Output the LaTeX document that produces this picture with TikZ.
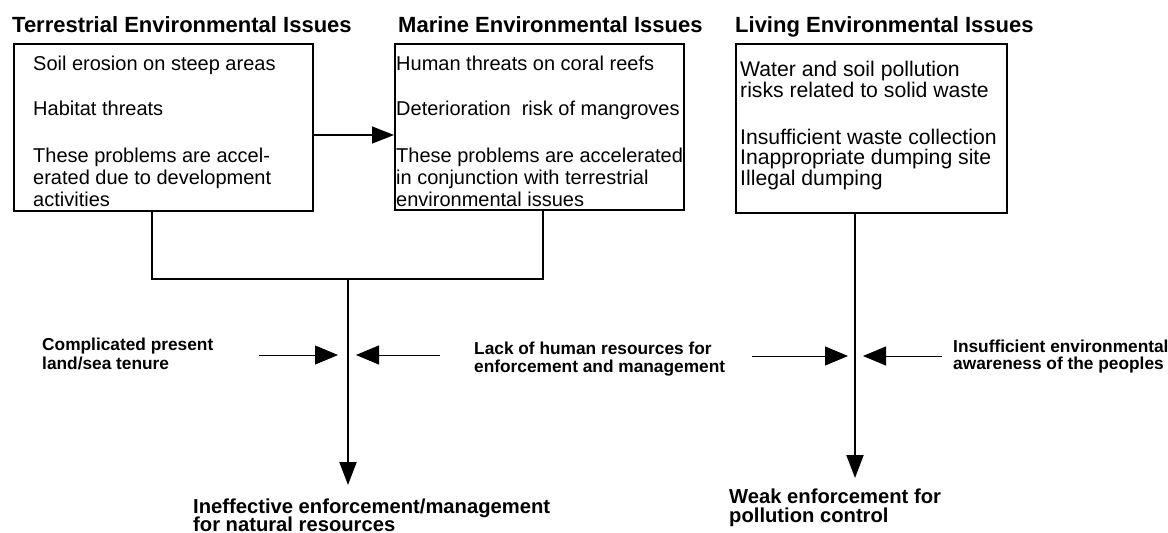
\documentclass[tikz,border=0pt]{standalone}
\usepackage{fontspec}
\setmainfont{Liberation Sans}
\usetikzlibrary{arrows.meta}
\begin{document}
\begin{tikzpicture}[x=1pt,y=-1pt,
  box/.style={draw,line width=2pt,inner sep=0pt,anchor=north west},
  title/.style={font=\bfseries\fontsize{22}{24}\selectfont,anchor=base west,inner sep=0pt},
  body/.style={font=\fontsize{20}{22}\selectfont,anchor=base west,inner sep=0pt},
  wbody/.style={body,font=\fontsize{21.2}{22}\selectfont},
  side/.style={font=\bfseries\fontsize{17.3}{20}\selectfont,anchor=base west,inner sep=0pt},
  result/.style={font=\bfseries\fontsize{20.2}{20}\selectfont,anchor=base west,inner sep=0pt},
  conn/.style={line width=2pt},
  mainarrow/.style={line width=2pt,-{Triangle[length=23pt,width=17pt]}},
  linkarrow/.style={line width=1.5pt,-{Triangle[length=22pt,width=17pt]}},
  sidearrow/.style={line width=1pt,-{Triangle[length=23pt,width=19pt]}}
]
\useasboundingbox (0,0) rectangle (1168,533);

% titles
\node[title] (h1) at (12,32) {Terrestrial Environmental Issues};
\node[title] (h2) at (398,32) {Marine Environmental Issues};
\node[title] (h3) at (735,32) {Living Environmental Issues};

% boxes
\node[box,minimum width=299pt,minimum height=167pt] (b1) at (13,43) {};
\node[box,minimum width=289pt,minimum height=166pt] (b2) at (394,43) {};
\node[box,minimum width=271pt,minimum height=169pt] (b3) at (735,43) {};

% box 1 text
\node[body] (t1a) at (33,70) {Soil erosion on steep areas};
\node[body] (t1b) at (33,115) {Habitat threats};
\node[body] (t1c) at (33,162) {These problems are accel-};
\node[body] (t1d) at (33,184) {erated due to development};
\node[body] (t1e) at (33,206) {activities};

% box 2 text
\node[body] (t2a) at (396,70) {Human threats on coral reefs};
\node[body] (t2b) at (396,115) {Deterioration\ \ risk of mangroves};
\node[body] (t2c) at (396,162) {These problems are accelerated};
\node[body] (t2d) at (396,184) {in conjunction with terrestrial};
\node[body] (t2e) at (396,206) {environmental issues};

% box 3 text
\node[wbody] (t3a) at (740,76) {Water and soil pollution};
\node[wbody] (t3b) at (740,97) {risks related to solid waste};
\node[wbody] (t3c) at (740,144) {Insufficient waste collection};
\node[wbody] (t3d) at (740,164) {Inappropriate dumping site};
\node[wbody] (t3e) at (740,185) {Illegal dumping};

% box1 -> box2
\draw[linkarrow] (b1.east |- 0,135) -- (b2.west |- 0,135);

% junction of box1 and box2
\coordinate (j1) at (152,279);
\coordinate (j2) at (543,279);
\coordinate (jm) at (348,279);
\coordinate (e1) at (348,485);
\draw[conn] (b1.south -| j1) -- (j1) -- (j2) -- (b2.south -| j2);
\draw[mainarrow] (jm) -- (e1);

% box3 down
\coordinate (e2) at (855,478);
\draw[mainarrow] (b3.south -| e2) -- (e2);

% side labels
\node[side] (s1a) at (42,350) {Complicated present};
\node[side] (s1b) at (42,369) {land/sea tenure};
\node[side] (s2a) at (474,354) {Lack of human resources for};
\node[side] (s2b) at (474,372) {enforcement and management};
\node[side] (s3a) at (953,352) {Insufficient environmental};
\node[side] (s3b) at (953,369) {awareness of the peoples};

% side arrows
\coordinate (a1s) at (259,355); \coordinate (a1e) at (338,355);
\coordinate (a2s) at (440,355); \coordinate (a2e) at (356,355);
\coordinate (a3s) at (752,356); \coordinate (a3e) at (848,356);
\coordinate (a4s) at (942,356); \coordinate (a4e) at (863,356);
\draw[sidearrow] (a1s) -- (a1e);
\draw[sidearrow] (a2s) -- (a2e);
\draw[sidearrow] (a3s) -- (a3e);
\draw[sidearrow] (a4s) -- (a4e);

% results
\node[result] (r1a) at (193,513) {Ineffective enforcement/management};
\node[result] (r1b) at (193,531) {for natural resources};
\node[result] (r2a) at (729,503) {Weak enforcement for};
\node[result] (r2b) at (729,522) {pollution control};
\end{tikzpicture}
\end{document}
